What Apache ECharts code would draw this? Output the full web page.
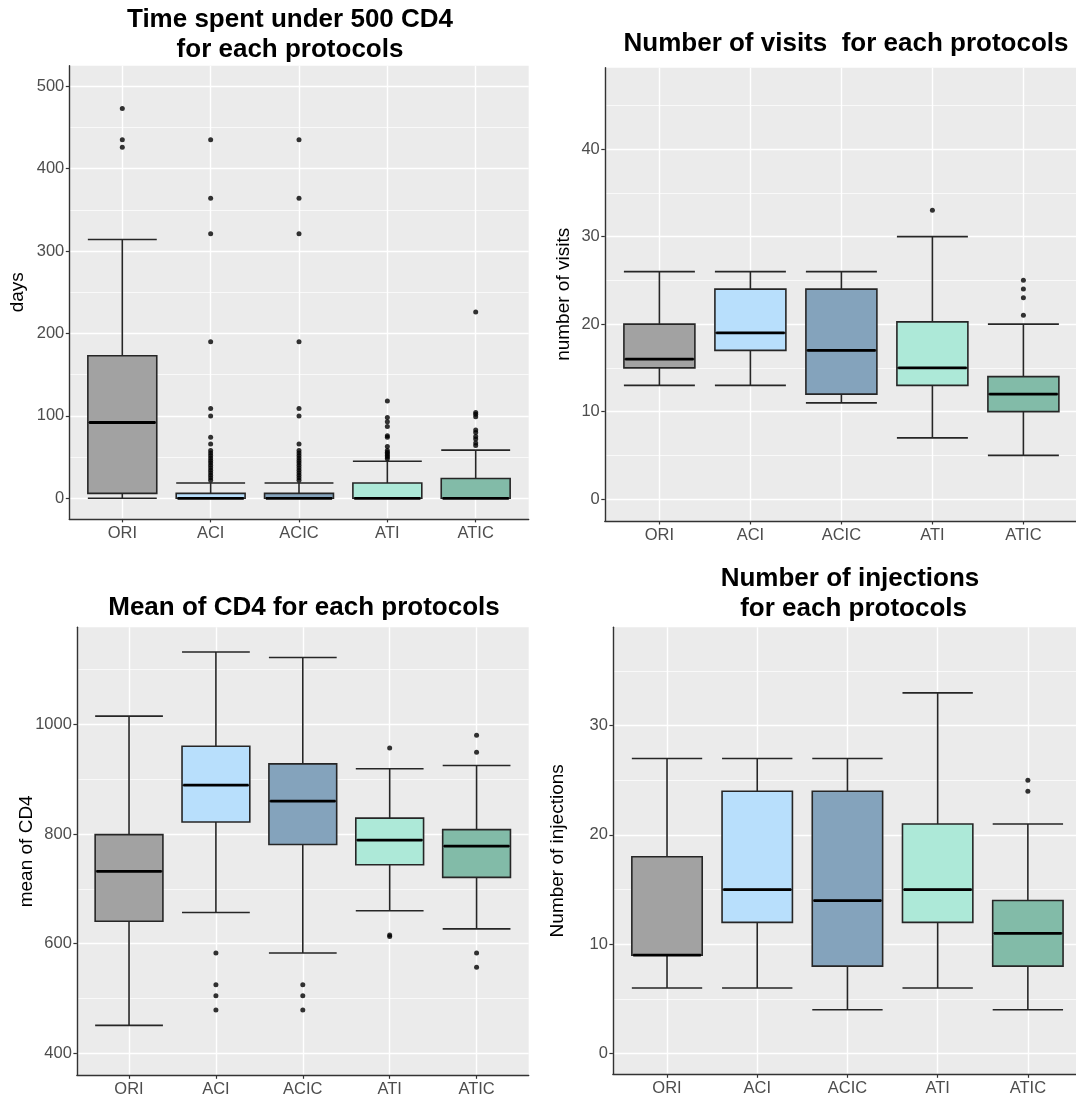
<!DOCTYPE html>
<html><head><meta charset="utf-8">
<script src="https://cdn.jsdelivr.net/npm/echarts@6/dist/echarts.min.js"></script>
<style>html,body{margin:0;padding:0;background:#fff}#c{width:1076px;height:1096px}</style>
</head><body><div id="c"></div>
<script>
// ---------- data ----------
const protocols = ['ORI', 'ACI', 'ACIC', 'ATI', 'ATIC'];

// Panel 1: time spent under 500 CD4 (days) — [min, Q1, median, Q3, max]
const daysBoxes = [[0, 6, 92, 173, 314], [0, 0, 0, 6, 18.5], [0, 0, 0, 6, 18.5], [0, 0, 0, 18.5, 45], [0, 0, 0, 24, 58.5]];
const daysOutliers = [
  [473, 435, 426],
  [435, 364, 321, 190, 109, 100, 74, 66, 58, 55, 52, 49, 46, 43, 40, 37, 34, 31, 28, 25, 22],
  [435, 364, 321, 190, 109, 100, 66, 58, 55, 52, 49, 46, 43, 40, 37, 34, 31, 28, 25, 22],
  [118, 98, 93, 87, 76, 74, 63, 58, 56, 54, 52, 50, 48],
  [226, 104, 102, 99, 83, 80, 75, 72, 67, 64]
];
const daysTicks = [0, 100, 200, 300, 400, 500];
const daysMinor = [50, 150, 250, 350, 450];

// Panel 2: number of visits
const visitsBoxes = [[13, 15, 16, 20, 26], [13, 17, 19, 24, 26], [11, 12, 17, 24, 26], [7, 13, 15, 20.25, 30], [5, 10, 12, 14, 20]];
const visitsOutliers = [[], [], [], [33], [25, 24, 23, 21]];
const visitsTicks = [0, 10, 20, 30, 40];
const visitsMinor = [5, 15, 25, 35, 45];

// Panel 3: mean of CD4
const cd4Boxes = [[451, 641, 732, 799, 1015], [657, 822, 889, 960, 1132], [583, 781, 860, 928, 1122], [660, 744, 789, 829, 919], [627, 721, 778, 808, 925]];
const cd4Outliers = [[], [583, 525, 505, 479], [525, 505, 479], [957, 616, 613], [980, 949, 583, 557]];
const cd4Ticks = [400, 600, 800, 1000];
const cd4Minor = [500, 700, 900, 1100];

// Panel 4: number of injections
const injBoxes = [[6, 9, 9, 18, 27], [6, 12, 15, 24, 27], [4, 8, 14, 24, 27], [6, 12, 15, 21, 33], [4, 8, 11, 14, 21]];
const injOutliers = [[], [], [], [], [25, 24]];
const injTicks = [0, 10, 20, 30];
const injMinor = [5, 15, 25, 35];

// ---------- styles / layout ----------
const fills = ['#A2A2A2', '#B8DFFC', '#84A3BC', '#ADE9D8', '#82BBA8'];
const FONT = 'Liberation Sans, Arial, Helvetica, sans-serif';
const LINE = '#262626';

const panels = [
  {data: [daysBoxes, daysOutliers, daysTicks, daysMinor], title: 'Time spent under 500 CD4\nfor each protocols', yName: 'days',
   tx: 290, ty: 5, nameGap: 42, left: 69.3, top: 65.7, width: 459.4, height: 453.2, yMin: -25, yMax: 525, yStep: 25},
  {data: [visitsBoxes, visitsOutliers, visitsTicks, visitsMinor], title: 'Number of visits  for each protocols', yName: 'number of visits',
   tx: 846, ty: 29, nameGap: 32, left: 604.8, top: 67.7, width: 473.2, height: 453.3, yMin: -2.5, yMax: 49.3, yStep: 0.1},
  {data: [cd4Boxes, cd4Outliers, cd4Ticks, cd4Minor], title: 'Mean of CD4 for each protocols', yName: 'mean of CD4',
   tx: 304, ty: 593, nameGap: 41, left: 76.9, top: 627.3, width: 451.8, height: 448, yMin: 360, yMax: 1177, yStep: 1},
  {data: [injBoxes, injOutliers, injTicks, injMinor], title: 'Number of injections\n for each protocols', yName: 'Number of injections',
   tx: 850, ty: 564, nameGap: 46, left: 612.9, top: 627.3, width: 469.1, height: 447, yMin: -1.9, yMax: 39, yStep: 0.1}
];

function seq(a, b, s) {
  const n = Math.round((b - a) / s), out = [];
  for (let k = 0; k <= n; k++) out.push(+(a + k * s).toFixed(4));
  return out;
}
const inList = (list, v) => list.some(t => Math.abs(t - v) < 1e-6);
const isInt = v => Math.abs(v - Math.round(v)) < 1e-6;

const xsNum = seq(0.4, 5.6, 0.2);

const option = {
  animation: false,
  backgroundColor: '#FFFFFF',
  textStyle: {fontFamily: FONT},
  title: [], grid: [], xAxis: [], yAxis: [], series: []
};

panels.forEach((p, g) => {
  const [boxes, outliers, ticks, minor] = p.data;
  const ysNum = seq(p.yMin, p.yMax, p.yStep);

  option.title.push({
    text: p.title, left: p.tx, top: p.ty, textAlign: 'center', padding: 0,
    textStyle: {fontSize: 26, fontWeight: 'bold', color: '#000', lineHeight: 30, fontFamily: FONT}
  });
  option.grid.push({
    left: p.left, top: p.top, width: p.width, height: p.height,
    show: true, backgroundColor: '#EBEBEB', borderWidth: 0, containLabel: false, outerBoundsMode: 'none'
  });

  // decorative x axis (labels, ticks, vertical grid)
  option.xAxis.push({
    type: 'category', gridIndex: g, position: 'bottom', boundaryGap: false,
    data: xsNum.map(String), z: 3,
    axisLine: {show: true, onZero: false, lineStyle: {color: '#333333', width: 1.4}},
    axisTick: {show: true, interval: i => isInt(xsNum[i]), length: 3.5, lineStyle: {color: '#333333', width: 1.2}},
    axisLabel: {show: true, interval: i => isInt(xsNum[i]), formatter: v => protocols[Math.round(Number(v)) - 1],
      margin: 6, color: '#4D4D4D', fontSize: 16.5, fontFamily: FONT},
    splitLine: {show: true, interval: i => isInt(xsNum[i]), lineStyle: {color: '#FFFFFF', width: 1.4}}
  });
  // data x axis
  option.xAxis.push({type: 'value', gridIndex: g, position: 'top', min: 0.4, max: 5.6, show: false});

  // decorative y axis: major grid, labels, ticks, name
  option.yAxis.push({
    type: 'category', gridIndex: g, position: 'left', boundaryGap: false,
    data: ysNum.map(String), z: 3,
    name: p.yName, nameLocation: 'middle', nameGap: p.nameGap, nameMoveOverlap: false,
    nameTextStyle: {fontSize: 19, color: '#000', fontFamily: FONT},
    axisLine: {show: true, onZero: false, lineStyle: {color: '#333333', width: 1.4}},
    axisTick: {show: true, interval: i => inList(ticks, ysNum[i]), length: 3.5, lineStyle: {color: '#333333', width: 1.2}},
    axisLabel: {show: true, interval: i => inList(ticks, ysNum[i]), formatter: v => String(Math.round(Number(v))),
      margin: 5, color: '#4D4D4D', fontSize: 16.5, fontFamily: FONT},
    splitLine: {show: true, interval: i => inList(ticks, ysNum[i]), lineStyle: {color: '#FFFFFF', width: 1.4}}
  });
  // decorative y axis: minor grid
  option.yAxis.push({
    type: 'category', gridIndex: g, position: 'right', boundaryGap: false,
    data: ysNum.map(String),
    axisLine: {show: false}, axisTick: {show: false}, axisLabel: {show: false},
    splitLine: {show: true, interval: i => inList(minor, ysNum[i]), lineStyle: {color: '#FFFFFF', width: 0.7}}
  });
  // data y axis
  option.yAxis.push({type: 'value', gridIndex: g, position: 'right', min: p.yMin, max: p.yMax, show: false});

  const xi = 2 * g + 1, yi = 3 * g + 2;
  option.series.push({
    type: 'boxplot', xAxisIndex: xi, yAxisIndex: yi, z: 3,
    boxWidth: ['75%', '75%'],
    data: boxes.map((b, i) => ({value: [i + 1].concat(b), itemStyle: {color: fills[i], borderColor: LINE, borderWidth: 1.6}})),
    emphasis: {disabled: true}
  });
  const pts = [];
  outliers.forEach((arr, i) => arr.forEach(v => pts.push([i + 1, v])));
  option.series.push({
    type: 'scatter', xAxisIndex: xi, yAxisIndex: yi, z: 4,
    symbol: 'circle', symbolSize: 5, data: pts,
    itemStyle: {color: '#000000'}, emphasis: {disabled: true}
  });
  option.series.push({
    type: 'custom', xAxisIndex: xi, yAxisIndex: yi, z: 5,
    data: boxes.map((b, i) => [i + 1, b[2]]),
    renderItem: (params, api) => {
      const x = api.value(0), m = api.value(1);
      const a = api.coord([x - 0.375, m]), b = api.coord([x + 0.375, m]);
      return {type: 'line', shape: {x1: a[0], y1: a[1], x2: b[0], y2: b[1]}, style: {stroke: '#000000', lineWidth: 2.8}};
    }
  });
});

const chart = echarts.init(document.getElementById('c'), null, {renderer: 'canvas'});
chart.setOption(option);
</script>
</body></html>
